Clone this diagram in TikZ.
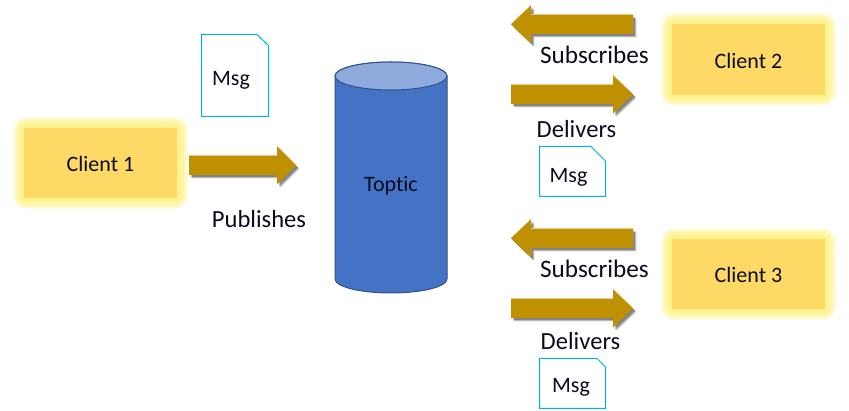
\documentclass[tikz,border=0pt]{standalone}
\usepackage{fontspec}
\setmainfont[Ligatures=NoCommon]{Carlito}
\definecolor{gold}{HTML}{FFD966}
\definecolor{glow}{HTML}{FFF17A}
\definecolor{arrowc}{HTML}{BF9000}
\definecolor{cylc}{HTML}{4472C4}
\definecolor{cyle}{HTML}{2F528F}
\definecolor{cylt}{HTML}{8FAADC}
\definecolor{msgc}{HTML}{00B0F0}
\definecolor{ink}{HTML}{0B0B1E}
\tikzset{
  lab/.style={font=\fontsize{25.2}{29}\selectfont, text=ink, inner sep=0pt},
  labn/.style={font=\fontsize{24.6}{29}\selectfont, text=ink, inner sep=0pt},
  small/.style={font=\fontsize{22}{26}\selectfont, text=ink, inner sep=0pt},
  doc/.style={draw=msgc, line width=1pt, fill=white, line join=miter},
  blockarrow/.style={fill=arrowc, draw=none}
}
% x1 y1 x2 y2 name
\newcommand{\clientbox}[5]{%
  \foreach \r in {11,10,...,1}{
    \fill[glow, opacity=.17, rounded corners=\r pt+2pt] (#1-\r,#2-\r) rectangle (#3+\r,#4+\r);
  }
  \node[minimum width=#3 pt-#1 pt, minimum height=#4 pt-#2 pt, fill=gold, inner sep=0pt] (#5) at ({(#1+#3)/2},{(#2+#4)/2}) {};
}
% tail x, base x, tip x, mid y
\newcommand{\blockarrowpath}[4]{(#1,#4-9.5) -- (#2,#4-9.5) -- (#2,#4-19) -- (#3,#4) -- (#2,#4+19) -- (#2,#4+9.5) -- (#1,#4+9.5) -- cycle}
\newcommand{\arrowshape}[4]{%
  \foreach \k/\o in {3.6/.10,3/.14,2.4/.18,1.8/.18}{
    \fill[black, opacity=\o, shift={(\k,\k)}] \blockarrowpath{#1}{#2}{#3}{#4};
  }
  \fill[arrowc!35!white, shift={(0,-1)}] \blockarrowpath{#1}{#2}{#3}{#4};
  \fill[blockarrow] \blockarrowpath{#1}{#2}{#3}{#4};
}
\begin{document}
\begin{tikzpicture}[x=1pt,y=-1pt]
\useasboundingbox (0,0) rectangle (849,411);

% clients
\clientbox{24}{128}{177}{198}{c1}
\clientbox{672}{24}{825}{95}{c2}
\clientbox{672}{239}{825}{309}{c3}
\node[small] at (100.5,164) {Client 1};
\node[small] at (748.5,61) {Client 2};
\node[small] at (748.5,275) {Client 3};

% arrows
\arrowshape{189}{277}{296}{165.5}
\arrowshape{633}{531}{511}{24.5}
\arrowshape{511}{613}{633}{94.5}
\arrowshape{633}{531}{511}{238.5}
\arrowshape{511}{613}{633}{308.5}

% cylinder
\draw[fill=cylc, draw=cyle, line width=1pt] (335,76) -- (335,279) arc[start angle=180, end angle=0, x radius=56, y radius=14] -- (447,76) arc[start angle=0, end angle=-180, x radius=56, y radius=14] -- cycle;
\draw[fill=cylt, draw=cyle, line width=1pt] (391,76) ellipse[x radius=56, y radius=14];
\node[small] (topic) at (391,185.5) {Toptic};

% documents
\draw[doc] (201.5,34.5) -- (257,34.5) -- (268.5,45.5) -- (268.5,116.5) -- (201.5,116.5) -- cycle;
\draw[doc] (539.5,146.5) -- (591,146.5) -- (605.5,161) -- (605.5,196.5) -- (539.5,196.5) -- cycle;
\draw[doc] (539.5,358.5) -- (597,358.5) -- (605.5,367) -- (605.5,408.5) -- (539.5,408.5) -- cycle;
\node[small] (m1) at (231,80) {Msg};
\node[small] (m2) at (568.5,177) {Msg};
\node[small] (m3) at (571,387) {Msg};

% labels
\node[labn] (pub) at (259,219) {Publishes};
\node[lab] (s1) at (594.5,55) {Subscribes};
\node[labn] (d1) at (576.5,129) {Delivers};
\node[lab] (s2) at (594.5,269) {Subscribes};
\node[labn] (d2) at (580.5,341) {Delivers};
\end{tikzpicture}
\end{document}
